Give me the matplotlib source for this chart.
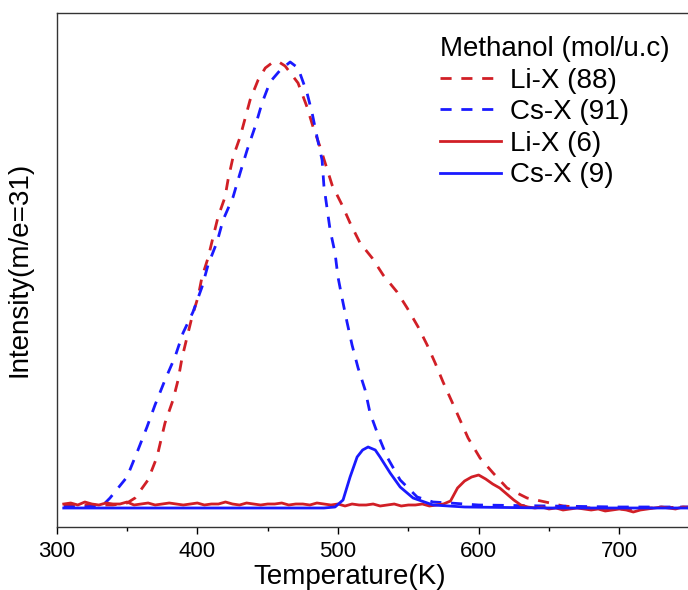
import numpy as np
import matplotlib
matplotlib.use("Agg")
import matplotlib.pyplot as plt
from matplotlib.ticker import MultipleLocator

plt.rcParams['font.family'] = ['Liberation Sans', 'DejaVu Sans']

# Li-X, 88 methanol/u.c (dashed red)
li88_T = [305, 320, 340, 350, 355.7, 364.9, 371.3, 377.0, 382.7, 386.3, 389.1, 392.7,
          396.2, 400.5, 403.3, 407.6, 411.2, 414.7, 419.7, 421.8, 425.4, 430.4, 437.5,
          443.2, 448.3, 453.9, 458, 462.4, 471.6, 478.0, 482.3, 487.3, 495.8, 502.9,
          508.6, 515.7, 524.3, 532.1, 542.0, 549.2, 557.0, 563.4, 569.1, 574.7, 581.1,
          586.8, 592.5, 601.0, 610.3, 620.2, 634.4, 650.8, 660, 680, 700, 720, 750]
li88_I = [3, 3, 3, 5, 10, 28, 51, 85, 108, 128, 150, 171,
          191, 211, 231, 250, 271, 291, 311, 328, 351, 371, 408,
          428, 440, 446, 446, 442, 425, 401, 381, 361, 323, 303,
          285, 265, 250, 233, 216, 200, 181, 163, 145, 126, 106,
          88, 70, 50, 35, 20, 10, 5, 2, 0, -1, 0, 1]

# Cs-X, 91 methanol/u.c (dashed blue)
cs91_T = [305, 320, 330, 334.4, 337.9, 350.0, 357.8, 364.2, 369.9, 377.0, 384.1, 389.8,
          396.9, 403.3, 407.6, 414.0, 418.3, 425.4, 430.4, 435.4, 441.0, 446.0, 451.7,
          459, 466.0, 471.6, 478.0, 481.6, 485.1, 488.7, 490.0, 492.2, 494.4, 497.9,
          500.0, 502.9, 506.4, 510.0, 514.3, 519.3, 522.8, 528.5, 534.9, 544.2, 556.3,
          567.6, 579.7, 600, 650, 700, 750]
cs91_I = [1, 1, 2, 5, 10, 31, 58, 81, 103, 128, 151, 175,
          196, 221, 243, 266, 288, 311, 335, 358, 381, 405, 426,
          438, 446, 440, 415, 395, 371, 348, 322, 300, 278, 255,
          231, 210, 186, 163, 140, 118, 95, 73, 51, 28, 11,
          6, 5, 3, 2, 1, 1]

# Li-X, 6 methanol/u.c (solid red)
li6_T = list(np.arange(305, 580, 5)) + [580, 585, 590, 595, 600, 605, 610, 615, 620, 625, 630, 635] \
        + list(np.arange(640, 755, 5))
li6_I = [4, 5, 3, 6, 4, 3, 5, 4, 4, 6, 3, 4, 5, 3, 4, 5, 4, 3, 4, 5,
         3, 4, 4, 6, 4, 3, 5, 4, 3, 4, 4, 5, 3, 4, 4, 3, 5, 4, 3, 4,
         2, 4, 3, 3, 4, 2, 3, 4, 2, 3, 3, 4, 2, 3, 4] \
        + [7, 20, 27, 31, 33, 29, 24, 20, 14, 8, 3, 1] \
        + [0, 1, -1, 0, -2, -1, 0, -1, -2, -1, -3, -2, -1, -2, -4, -2, -1, 0, 1, 0, -1, 1, 0]

# Cs-X, 9 methanol/u.c (solid blue)
cs9_T = [305, 400, 490, 497.9, 503.6, 508.6, 513.6, 517.5, 521.4, 526.5, 529.9, 537.1,
         544.2, 553.4, 567.6, 590, 650, 750]
cs9_I = [0, 0, 0, 1, 8, 31, 51, 58, 61, 58, 51, 35,
         21, 10, 3, 1, 0, 0]

red = '#d11f26'
blue = '#1a1aff'

fig = plt.figure(figsize=(6.88, 5.90), dpi=100)
ax = fig.add_axes([56.7 / 688, 63.3 / 590, 632.9 / 688, 514 / 590])

ax.plot(li88_T, li88_I, color=red, lw=2, dashes=(4, 3.5), label='Li-X (88)')
ax.plot(cs91_T, cs91_I, color=blue, lw=2, dashes=(4, 3.5), label='Cs-X (91)')
ax.plot(li6_T, li6_I, color=red, lw=2, label='Li-X (6)')
ax.plot(cs9_T, cs9_I, color=blue, lw=2, label='Cs-X (9)')

ax.set_xlim(300, 750)
ax.set_ylim(-18.7, 495.3)
ax.xaxis.set_major_locator(MultipleLocator(100))
ax.xaxis.set_minor_locator(MultipleLocator(50))
ax.set_yticks([])
ax.tick_params(axis='x', which='major', direction='out', length=5, width=1, labelsize=16, pad=5)
ax.tick_params(axis='x', which='minor', direction='out', length=3, width=1)
for s in ax.spines.values():
    s.set_color('#333333')
    s.set_linewidth(1)

ax.set_xlabel('Temperature(K)', fontsize=20)
ax.xaxis.set_label_coords(0.4634, -0.072)
ax.set_ylabel('Intensity(m/e=31)', fontsize=20)
ax.yaxis.set_label_coords(-0.039, 0.5)

leg = ax.legend(title='Methanol (mol/u.c)', loc='upper right', frameon=False,
                fontsize=20, title_fontsize=20, handlelength=2.2, handletextpad=0.3,
                labelspacing=0.2, alignment='left',
                bbox_to_anchor=(670 / 688, 1 - 36 / 590), bbox_transform=fig.transFigure,
                borderaxespad=0, borderpad=0)

fig.savefig('out.png', dpi=100)
